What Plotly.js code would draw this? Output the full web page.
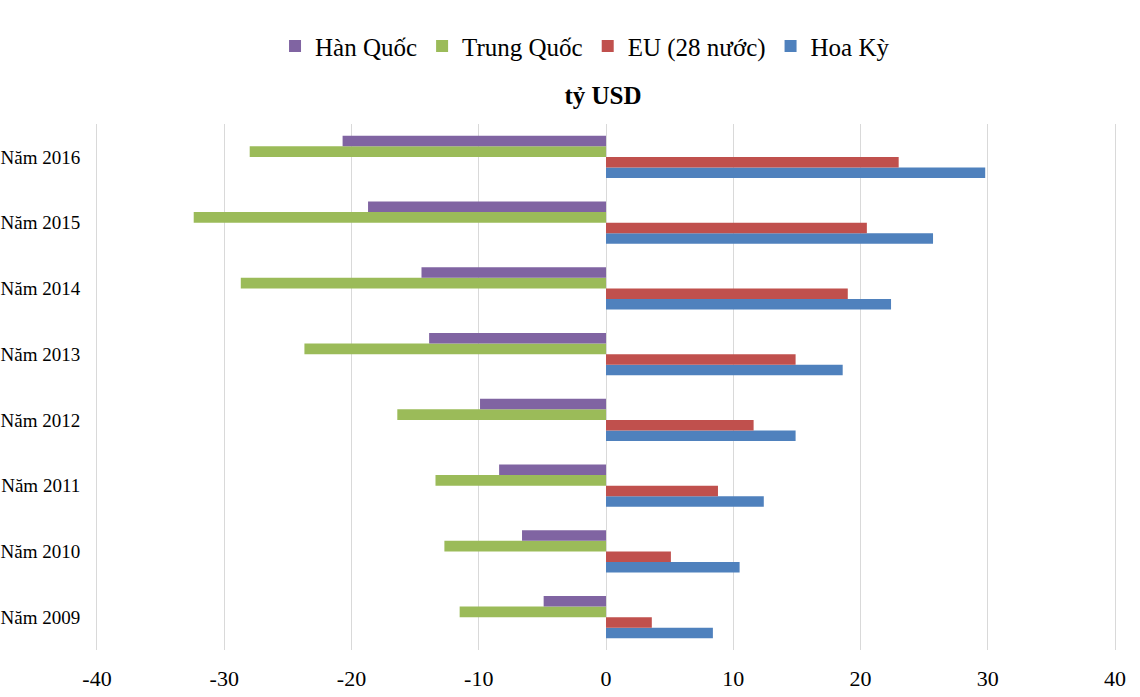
<!DOCTYPE html>
<html>
<head>
<meta charset="utf-8">
<script src="https://cdn.plot.ly/plotly-3.0.1.min.js"></script>
<style>html,body{margin:0;padding:0;background:#fff;}#chart{width:1140px;height:697px;}</style>
</head>
<body>
<div id="chart"></div>
<script>
const categories = ['Năm 2009','Năm 2010','Năm 2011','Năm 2012','Năm 2013','Năm 2014','Năm 2015','Năm 2016'];
const hanQuoc   = [-4.9, -6.6, -8.4, -9.9, -13.9, -14.5, -18.7, -20.7];
const trungQuoc = [-11.5, -12.7, -13.4, -16.4, -23.7, -28.7, -32.4, -28.0];
const eu28      = [3.6, 5.1, 8.8, 11.6, 14.9, 19.0, 20.5, 23.0];
const hoaKy     = [8.4, 10.5, 12.4, 14.9, 18.6, 22.4, 25.7, 29.8];
const xTicks    = [-40, -30, -20, -10, 0, 10, 20, 30, 40];

const font = 'Liberation Serif';
function tr(name, x, color) {
  return {type:'bar', orientation:'h', name:name, x:x, y:categories,
          marker:{color:color}, hoverinfo:'x+name'};
}
const data = [
  tr('Hoa Kỳ', hoaKy, '#4F81BD'),
  tr('EU (28 nước)', eu28, '#C0504D'),
  tr('Trung Quốc', trungQuoc, '#9BBB59'),
  tr('Hàn Quốc', hanQuoc, '#8064A2')
];
const layout = {
  width:1140, height:697,
  margin:{l:97, r:25, t:124, b:47},
  paper_bgcolor:'#fff', plot_bgcolor:'#fff',
  font:{family:font, color:'#000', size:18},
  barmode:'group', bargap:0.36, bargroupgap:0,
  title:{text:'<b>tỷ USD</b>', font:{family:font, size:25, color:'#000'},
         x:603/1140, xref:'container', xanchor:'center', y:1-95/697, yref:'container', yanchor:'middle'},
  legend:{orientation:'h', traceorder:'reversed', x:0.4794, xanchor:'center',
          y:1.148, yanchor:'middle', font:{family:font, size:25, color:'#000'},
          itemwidth:30},
  xaxis:{range:[-40,40], tickvals:xTicks, ticktext:xTicks.map(String),
         showgrid:true, gridcolor:'#d9d9d9', gridwidth:1,
         zeroline:true, zerolinecolor:'#d9d9d9', zerolinewidth:1,
         showline:false, ticks:'', tickfont:{family:font, size:22, color:'#000'},
         ticklabelstandoff:13, fixedrange:true},
  yaxis:{type:'category', categoryorder:'array', categoryarray:categories,
         showgrid:false, zeroline:false, showline:true, mirror:true,
         linecolor:'#d9d9d9', linewidth:1, ticks:'',
         tickfont:{family:font, size:19, color:'#000'},
         ticklabelstandoff:12, fixedrange:true}
};
Plotly.newPlot('chart', data, layout, {displayModeBar:false, staticPlot:true});
</script>
</body>
</html>
